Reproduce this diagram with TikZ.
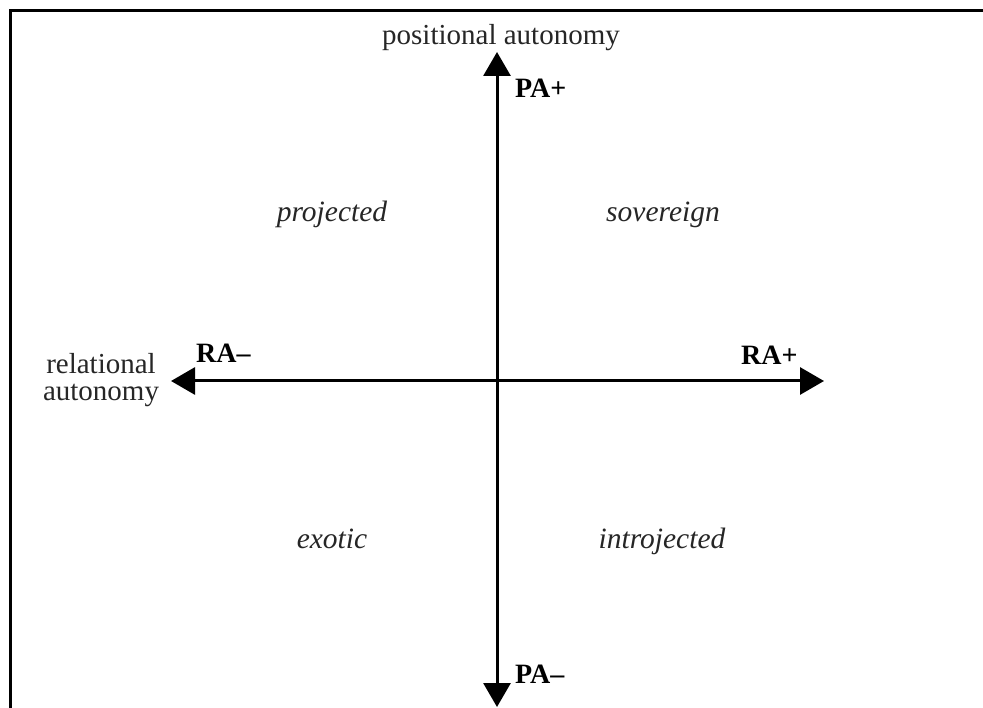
\documentclass[tikz,border=0pt]{standalone}
\usepackage{fontspec}
\setmainfont{Liberation Serif}
\usetikzlibrary{arrows.meta}
\begin{document}
\begin{tikzpicture}[x=1pt,y=-1pt,
  axisline/.style={line width=3pt,{Triangle[length=24pt,width=27pt]}-{Triangle[length=24pt,width=27pt]}},
  framel/.style={line width=3pt},
  lab/.style={inner sep=0pt,anchor=base,font=\fontsize{29}{27}\selectfont,text=black!85},
  pole/.style={inner sep=0pt,anchor=base west,font=\fontsize{28}{25}\selectfont\bfseries},
  quad/.style={inner sep=0pt,anchor=base,font=\fontsize{29.5}{25}\selectfont\itshape,text=black!85}]
\useasboundingbox (0,0) rectangle (983,708);
\fill[white] (0,0) rectangle (983,708);
\draw[framel] (10.5,708) -- (10.5,10.5) -- (983,10.5);
\coordinate (top) at (497,52);
\coordinate (bot) at (497,707);
\coordinate (left) at (171,381);
\coordinate (right) at (824,381);
\draw[axisline] (bot) -- (top);
\draw[axisline] (left) -- (right);
\node[lab] (pa) at (501,45) {positional autonomy};
\node[lab,align=center] (ra) at (101,401) {relational\\autonomy};
\node[pole] (paplus) at (515,98) {PA+};
\node[pole] (paminus) at (515,683) {PA–};
\node[pole] (raminus) at (196,363) {RA–};
\node[pole] (raplus) at (741,365) {RA+};
\node[quad] (proj) at (332,222) {projected};
\node[quad] (sov) at (663,222) {sovereign};
\node[quad] (exo) at (332,548) {exotic};
\node[quad] (intro) at (662,548) {introjected};
\end{tikzpicture}
\end{document}
